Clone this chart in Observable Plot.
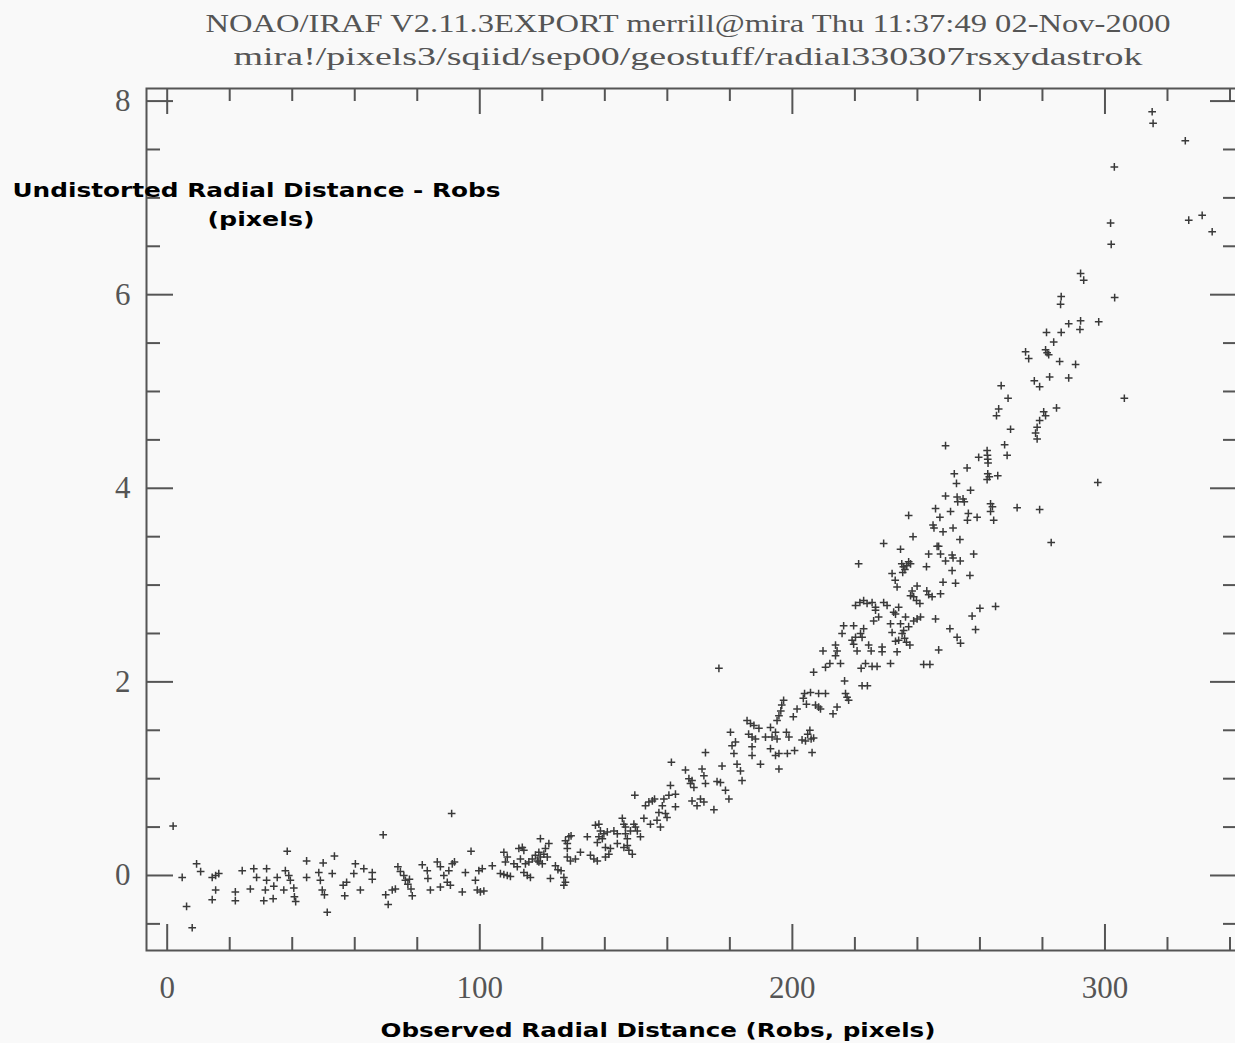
<!DOCTYPE html>
<html><head><meta charset="utf-8">
<script src="https://cdn.jsdelivr.net/npm/d3@7"></script>
<script src="https://cdn.jsdelivr.net/npm/@observablehq/plot@0.6"></script>
<style>
html,body{margin:0;padding:0;background:#f9f9f9;overflow:hidden;width:1235px;}
#chart{width:1235px;overflow:hidden;}
#chart svg{display:block;max-width:none !important;width:1242px;height:1043px;}
</style></head><body><div id="chart"></div>
<script>
// Observed radial distance (Robs, pixels)
const rObs = [
1.9,4.8,6.2,8,9.4,10.7,14.4,15.5,16.5,15.5,14.4,21.8,21.8,24,26.6,27.7,28.6,30.9,31.4,31.8,31.8,34.1,33.9,35.2,37.3,38.4,37.8,38.9,39.4,40.5,40.7,41.1,44.6,44.6,48.5,49,49.6,50.3,49.9,51.2,52.8,53.5,56.3,57.4,56.8,59.7,60.2,61.8,62.9,65.6,65.6,69.1,69.9,70.7,72,73,73.8,74.6,75.7,76.2,77,78,78.4,77.5,81.6,83.2,83.4,84.2,86.4,87.4,88.5,87.4,89.6,90.1,90.6,91.2,91.9,91,94.4,95.4,97.2,98.6,99.2,100.2,101.3,99.7,100.8,
104,106.6,107.7,108.8,109.8,107.7,108.8,108.2,110.9,112,112.5,113.6,114.1,113,114.6,114.1,115.2,116.2,115.7,116.8,117.8,118.4,118.9,118.9,119.4,120,120.5,121,121.6,119.4,122.1,122.6,124.2,125,126,126.9,127.4,126.9,127.4,128,128.5,129.2,128,128,129,130.6,132.2,134.4,135.4,136.5,137.6,137,138.1,138.6,138.1,137.6,139.2,139.7,140.8,140.2,141.3,141.8,140.2,142.9,144,144,145.6,146.1,146.6,147.2,147.2,146.1,147.7,148.8,146.6,148.2,149.3,149.8,150.4,151.4,149.6,152.5,153,154.1,155.2,155.9,154.6,156.7,157.8,157.3,158.4,158.9,159.4,159.9,160.5,161,162.6,162.6,161.3,165.8,166.9,167.4,167.9,168.5,167.9,169.5,170.6,171.7,171.1,171.7,172.2,172.2,174.9,175.9,177,178.6,179.7,177.5,183.9,
176.5,180.2,180.7,181.8,181.3,182.3,183.4,185.5,186.6,187.7,186,187.1,188.2,189.3,187.1,187.1,189.8,191.4,193,193.5,194.6,195.1,193,194.6,195.7,195.7,195.1,195.7,196.3,196.6,197.2,198.1,198.9,198.4,200.7,200.3,201.5,203.5,203.9,204.5,205.8,203.1,204.2,204.9,205.6,206,206.8,206.3,206.8,207.4,208.4,209,208.4,210.6,209.8,210.6,212,213,214.3,213.8,214.3,213.8,215.9,216.4,217.5,217,218,216.7,215.4,219.1,219.6,219.6,220.2,220.7,221.8,222.8,222.3,220.2,221.6,222.8,223.9,225.5,226.6,221.2,222,223.4,225.5,227.1,222.3,224,224.4,225.2,226,226.6,227.6,
249,255.9,259.6,262.3,262.4,262.5,262.6,267.9,268.7,262.5,263,262.3,265.7,251.8,252.5,257,249,252.7,252.9,254.6,255,245.8,250.6,247.2,256.3,256,259.1,263.4,264,263.4,264.4,271.9,279.1,282.8,297.7,237.2,245,245.3,248.2,251.4,238.6,253.6,229.2,234.6,246.3,246.8,243.6,247.4,249,251.1,251.4,253.7,258,235,235.5,236,236.6,237.2,237.8,235.3,242.9,251.1,256.8,252.2,248.2,231.9,232.9,233.5,239.9,238.3,238.8,239.7,240.8,237.8,243,243.6,244.7,247.4,229.2,230.3,232.4,234,231.4,233,234.6,236.2,237.2,238.8,239.9,241,245.8,231.9,233,234,235.1,235.9,236.5,237.6,235.6,228.7,228.7,233.5,231.4,242,244,246.8,250.4,252.7,253.8,257.5,260,258.6,265,
292.2,293.2,286,285.8,303.1,281.3,286,288.4,292.2,292,298,283.6,274.6,275.6,281,281.5,282,285.5,290.6,282.3,288.4,277.4,279.1,266.8,269,266,265.3,269.8,280.4,281,279.1,278.3,277.8,278.3,284.5,306.2,
315.1,315.4,325.7,303,301.8,302,326.8,331.1,334.3
];
// Undistorted radial distance minus Robs (pixels)
const dR = [
0.51,-0.02,-0.32,-0.54,0.12,0.04,-0.02,0,0.02,-0.15,-0.25,-0.17,-0.26,0.05,-0.14,0.07,-0.02,-0.26,-0.15,-0.05,0.07,-0.11,-0.24,-0.02,-0.15,0.25,0.05,0,-0.05,-0.13,-0.22,-0.27,0.15,-0.02,0.03,-0.05,-0.15,-0.2,0.13,-0.38,0.02,0.2,-0.1,-0.07,-0.21,0.02,0.12,-0.15,0.07,0.03,-0.04,0.42,-0.2,-0.3,-0.15,-0.14,0.09,0.04,0,-0.05,-0.09,-0.14,-0.21,-0.04,0.11,0.05,-0.03,-0.15,0.14,0.09,0,-0.12,-0.07,0.05,-0.1,0.12,0.14,0.64,-0.17,0.03,0.25,-0.05,-0.15,-0.17,-0.16,0.05,0.07,
0.1,0.02,0.01,0,-0.01,0.24,0.19,0.14,0.12,0.09,0.28,0.29,0.26,0.17,0.12,0.03,0,-0.02,0.14,0.17,0.21,0.15,0.24,0.14,0.19,0.12,0.22,0.28,0.19,0.38,0.33,-0.03,0.1,0.06,0.05,-0.02,-0.07,-0.1,0.36,0.33,0.4,0.41,0.28,0.19,0.15,0.17,0.24,0.4,0.21,0.17,0.15,0.52,0.53,0.46,0.4,0.34,0.38,0.43,0.45,0.29,0.22,0.28,0.19,0.46,0.43,0.33,0.59,0.53,0.5,0.38,0.31,0.29,0.26,0.22,0.43,0.46,0.53,0.5,0.46,0.4,0.83,0.59,0.72,0.76,0.77,0.79,0.53,0.57,0.5,0.65,0.72,0.79,0.64,0.6,0.83,0.93,0.84,0.71,1.17,1.09,1,0.95,0.98,0.91,0.77,0.72,0.79,0.76,1.1,1.03,0.95,1.27,0.68,0.97,0.96,0.88,0.79,1.13,0.98,
2.14,1.48,1.34,1.38,1.26,1.15,1.08,1.6,1.57,1.55,1.46,1.43,1.41,1.52,1.33,1.24,1.15,1.43,1.53,1.43,1.48,1.41,1.31,1.24,1.26,1.1,1.6,1.65,1.7,1.76,1.81,1.48,1.43,1.26,1.29,1.64,1.72,1.83,1.88,1.77,1.89,1.4,1.39,1.46,1.5,1.41,1.42,1.27,2.1,1.76,1.74,1.72,1.88,1.88,2.32,2.15,2.19,1.67,1.74,2.38,2.32,2.27,2.5,2.58,1.84,1.88,1.81,2.01,2.19,2.43,2.39,2.58,2.46,2.32,2.5,2.55,2.46,2.79,2.82,2.84,2.81,2.82,2.77,3.22,2.14,2.19,2.16,2.16,1.96,1.96,2.38,2.32,2.63,2.74,2.67,
4.44,4.21,4.32,4.39,4.34,4.3,4.26,4.45,4.34,4.15,4.12,4.09,4.13,4.15,4.05,3.98,3.92,3.91,3.86,3.89,3.86,3.79,3.76,3.7,3.74,3.67,3.7,3.84,3.81,3.76,3.67,3.8,3.78,3.44,4.06,3.72,3.62,3.59,3.55,3.59,3.5,3.47,3.43,3.37,3.4,3.4,3.32,3.32,3.25,3.31,3.28,3.25,3.32,3.22,3.19,3.16,3.2,3.24,3.22,3.13,3.19,3.15,3.1,3.02,3.03,3.12,3.05,2.98,2.99,2.94,2.88,2.84,2.81,2.89,2.94,2.9,2.88,2.91,2.82,2.79,2.72,2.77,2.6,2.7,2.6,2.67,2.57,2.63,2.65,2.67,2.65,2.51,2.42,2.43,2.5,2.45,2.41,2.38,2.53,2.36,2.31,2.31,2.19,2.18,2.18,2.33,2.55,2.46,2.4,2.68,2.76,2.54,2.78,
6.22,6.15,5.98,5.9,5.97,5.61,5.61,5.7,5.73,5.64,5.72,5.51,5.41,5.34,5.43,5.4,5.38,5.31,5.28,5.15,5.14,5.11,5.05,5.06,4.93,4.82,4.75,4.61,4.79,4.75,4.7,4.63,4.57,4.51,4.83,4.93,
7.89,7.77,7.59,7.32,6.74,6.52,6.77,6.82,6.65
];
const xMajor = [0, 100, 200, 300];
const xMinor = [20, 40, 60, 80, 120, 140, 160, 180, 220, 240, 260, 280, 320, 340];
const yMajor = [0, 2, 4, 6, 8];
const yMinor = [-0.5, 0.5, 1, 1.5, 2.5, 3, 3.5, 4.5, 5, 5.5, 6.5, 7, 7.5];
const titleLines = [
  "NOAO/IRAF V2.11.3EXPORT merrill@mira Thu 11:37:49 02-Nov-2000",
  "mira!/pixels3/sqiid/sep00/geostuff/radial330307rsxydastrok"
];
const yLabelLines = ["Undistorted Radial Distance - Robs", "(pixels)"];
const xLabel = "Observed Radial Distance (Robs, pixels)";

const points = rObs.map((x, i) => ({x, y: dR[i]}));

// SVG is slightly wider than the window so the right frame edge falls just outside, as in the original
const W = 1242, H = 1043, mL = 146, mR = 5, mT = 88, mB = 93;
const fw = W - mL - mR, fh = H - mT - mB;
const ink = "#555";
const serif = "'Liberation Serif', 'Times New Roman', serif";
const sans = "'DejaVu Sans', Verdana, sans-serif";
const MAJ = 26, MIN = 13;

const textFit = new Map([
  [titleLines[0], 965], [titleLines[1], 909],
  [yLabelLines[0], 488], [yLabelLines[1], 107], [xLabel, 555]
]);

const chart = Plot.plot({
  width: W, height: H,
  marginLeft: mL, marginRight: mR, marginTop: mT, marginBottom: mB,
  style: {background: "transparent", color: ink, maxWidth: "none"},
  x: {domain: [-6.62, 342.4]},
  y: {domain: [-0.775, 8.13]},
  marks: [
    Plot.frame({stroke: ink, strokeWidth: 2}),
    // bottom ticks
    Plot.ruleX(xMajor, {insetTop: fh - MAJ, stroke: ink, strokeWidth: 2}),
    Plot.ruleX(xMinor, {insetTop: fh - MIN, stroke: ink, strokeWidth: 2}),
    // top ticks
    Plot.ruleX(xMajor, {insetBottom: fh - MAJ, stroke: ink, strokeWidth: 2}),
    Plot.ruleX(xMinor, {insetBottom: fh - MIN, stroke: ink, strokeWidth: 2}),
    // left ticks
    Plot.ruleY(yMajor, {insetRight: fw - 27, stroke: ink, strokeWidth: 2}),
    Plot.ruleY(yMinor, {insetRight: fw - 14, stroke: ink, strokeWidth: 2}),
    // right ticks
    Plot.ruleY(yMajor, {insetLeft: fw - 27, stroke: ink, strokeWidth: 2}),
    Plot.ruleY(yMinor, {insetLeft: fw - 14, stroke: ink, strokeWidth: 2}),
    Plot.axisX({anchor: "bottom", ticks: xMajor, tickSize: 0, tickPadding: 25, label: null,
      fontSize: 31, fontFamily: serif, fill: ink, tickFormat: d => String(d)}),
    Plot.axisY({anchor: "left", ticks: yMajor, tickSize: 0, tickPadding: 16, label: null,
      fontSize: 31, fontFamily: serif, fill: ink, tickFormat: d => String(d)}),
    Plot.dot(points, {x: "x", y: "y", symbol: "plus", r: 2.6, fill: "none", stroke: "#3a3a3a", strokeWidth: 1.5}),
    // title lines
    Plot.text([titleLines[0]], {frameAnchor: "top-left", dx: 687.5 - mL, dy: 23.5 - mT, text: d => d,
      textAnchor: "middle", lineAnchor: "middle", fontSize: 25, fontFamily: serif, fill: ink}),
    Plot.text([titleLines[1]], {frameAnchor: "top-left", dx: 687.5 - mL, dy: 56 - mT, text: d => d,
      textAnchor: "middle", lineAnchor: "middle", fontSize: 25, fontFamily: serif, fill: ink}),
    // axis labels
    Plot.text([yLabelLines[0]], {frameAnchor: "top-left", dx: 256 - mL, dy: 190 - mT, text: d => d,
      textAnchor: "middle", lineAnchor: "middle", fontSize: 20, fontWeight: "bold", fontFamily: sans, fill: "#000"}),
    Plot.text([yLabelLines[1]], {frameAnchor: "top-left", dx: 260.5 - mL, dy: 219 - mT, text: d => d,
      textAnchor: "middle", lineAnchor: "middle", fontSize: 20, fontWeight: "bold", fontFamily: sans, fill: "#000"}),
    Plot.text([xLabel], {frameAnchor: "top-left", dx: 657.5 - mL, dy: 1030 - mT, text: d => d,
      textAnchor: "middle", lineAnchor: "middle", fontSize: 20, fontWeight: "bold", fontFamily: sans, fill: "#000"})
  ]
});

chart.querySelectorAll("text").forEach(t => {
  const len = textFit.get(t.textContent);
  if (len) {
    t.setAttribute("textLength", len);
    t.setAttribute("lengthAdjust", "spacingAndGlyphs");
  }
});
document.getElementById("chart").appendChild(chart);
</script>
</body></html>
